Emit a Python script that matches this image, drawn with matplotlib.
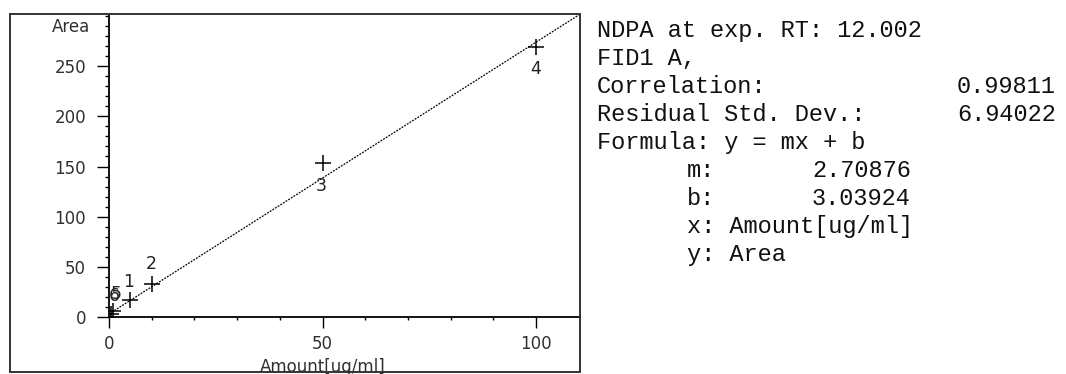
import matplotlib.pyplot as plt
from matplotlib.patches import Rectangle

# calibration points
amount = [5, 10, 50, 100, 1, 0.5]
area = [17, 33, 153, 269, 6, 3]
point_labels = ['1', '2', '3', '4', '5', '6']
label_offsets = [(-1, 13), (0, 14), (-1, -16), (0, -16), (2, 12), (2, 13)]  # points

# fit results
slope = 2.70876
intercept = 3.03924
x_fit = [0, 110.3]
y_fit = [intercept + slope * v for v in x_fit]

info_rows = ["NDPA at exp. RT: 12.002", "FID1 A,", "Correlation:", "Residual Std. Dev.:",
             "Formula: y = mx + b", "m:", "b:", "x: Amount[ug/ml]", "y: Area"]
info_values = [None, None, "0.99811", "6.94022", None, "2.70876", "3.03924", None, None]

W, H = 1066, 374
fig = plt.figure(figsize=(W / 100, H / 100), dpi=100)
ax = fig.add_axes([109 / W, 1 - 317 / H, (580 - 109) / W, (317 - 14) / H])

ax.plot(x_fit, y_fit, color='black', lw=0.9, ls=(0, (1.5, 1)))
ax.plot(amount, area, ls='none', marker='+', ms=11, mew=1.1, color='black')
for x, y, t, off in zip(amount, area, point_labels, label_offsets):
    ax.annotate(t, (x, y), xytext=off, textcoords='offset points',
                ha='center', va='center', fontsize=12.5, color='#222222')

ax.set_xlim(0, 110.3)
ax.set_ylim(0, 302)
ax.set_xticks([0, 50, 100])
ax.set_xticks(range(10, 110, 10), minor=True)
ax.set_yticks(range(0, 300, 50))
ax.set_yticks(range(0, 302, 10), minor=True)
ax.tick_params(axis='y', which='major', direction='out', length=8.6, width=1, pad=8, labelsize=12, labelcolor='#303030')
ax.tick_params(axis='y', which='minor', direction='out', length=3, width=1)
ax.tick_params(axis='x', which='major', direction='out', length=8, width=1, pad=5, labelsize=12, labelcolor='#303030')
ax.tick_params(axis='x', which='minor', direction='out', length=2.4, width=1)
for s in ['top', 'right']:
    ax.spines[s].set_visible(False)
for s in ['left', 'bottom']:
    ax.spines[s].set_linewidth(1.3)

fig.text(90 / W, 1 - 27 / H, 'Area', ha='right', va='center', fontsize=12, color='#303030')
fig.text(323 / W, 1 - 372 / H, 'Amount[ug/ml]', ha='center', va='baseline', fontsize=12, color='#303030')

fig.patches.append(Rectangle((10 / W, 1 - 372 / H), 570 / W, 358 / H, transform=fig.transFigure,
                             fill=False, ec='#333333', lw=1.4, zorder=5))

for i, (row, val) in enumerate(zip(info_rows, info_values)):
    yc = 1 - (30 + 28.1 * i) / H
    x0 = 597 if i < 5 else 687
    fig.text(x0 / W, yc, row, ha='left', va='center', family='Liberation Mono', fontsize=17, color='#111111')
    if val is not None:
        xv = 957 if i < 5 else 812
        fig.text(xv / W, yc, val, ha='left', va='center', family='Liberation Mono', fontsize=17, color='#111111')

fig.savefig('out.png', dpi=100)
